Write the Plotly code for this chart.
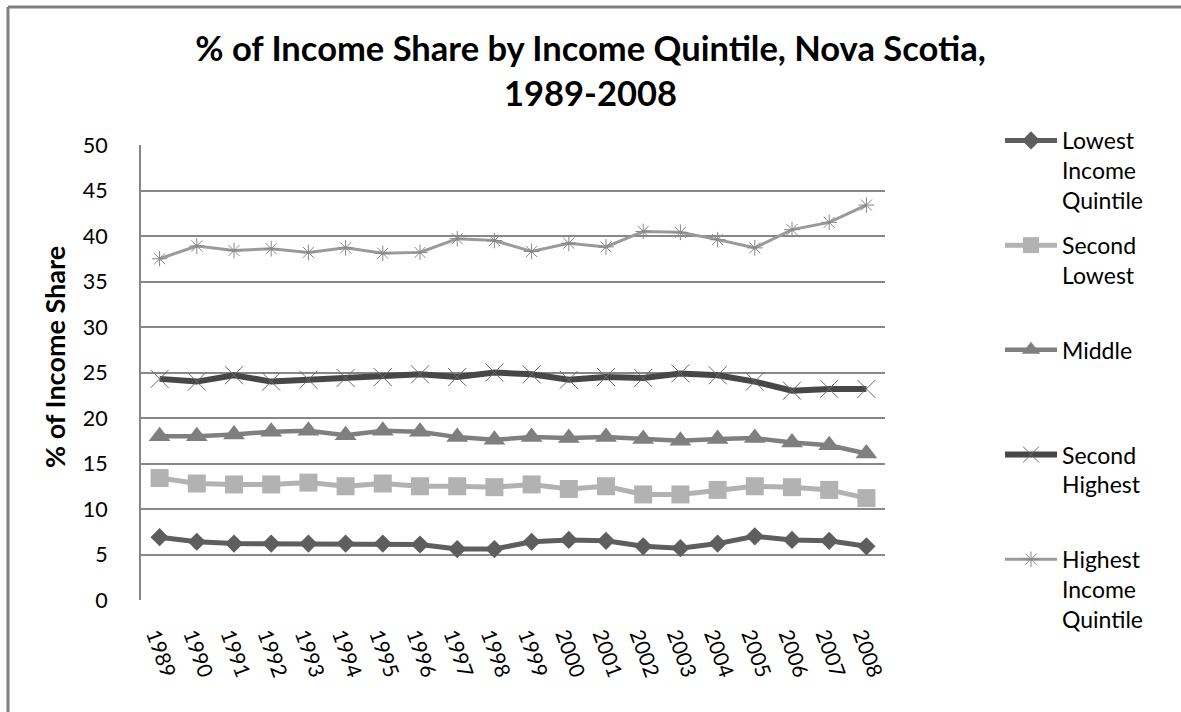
import plotly.graph_objects as go

years = [str(y) for y in range(1989, 2009)]

lowest = [6.9, 6.4, 6.2, 6.2, 6.2, 6.2, 6.2, 6.1, 5.6, 5.6, 6.4, 6.6, 6.5, 5.9, 5.7, 6.2, 7.0, 6.6, 6.5, 5.9]
second_lowest = [13.4, 12.8, 12.7, 12.7, 12.9, 12.5, 12.8, 12.5, 12.5, 12.4, 12.7, 12.2, 12.5, 11.6, 11.6, 12.1, 12.5, 12.4, 12.1, 11.2]
middle = [18.0, 18.0, 18.2, 18.5, 18.6, 18.1, 18.6, 18.5, 17.9, 17.6, 17.9, 17.8, 17.9, 17.7, 17.5, 17.7, 17.8, 17.3, 17.0, 16.1]
second_highest = [24.3, 24.0, 24.7, 24.0, 24.2, 24.4, 24.5, 24.8, 24.5, 25.0, 24.8, 24.2, 24.5, 24.4, 24.9, 24.7, 24.0, 23.0, 23.2, 23.2]
highest = [37.5, 38.9, 38.4, 38.6, 38.2, 38.7, 38.1, 38.2, 39.7, 39.5, 38.3, 39.2, 38.8, 40.5, 40.4, 39.6, 38.7, 40.7, 41.5, 43.4]

y_ticks = list(range(0, 55, 5))

FONT = "Lato"

series = [
    ("Lowest<br>Income<br>Quintile", lowest, "#5e5e5e", 5,
     dict(symbol="diamond", size=14, color="#5e5e5e")),
    ("Second<br>Lowest<br> ", second_lowest, "#b2b2b2", 5,
     dict(symbol="square", size=18, color="#b2b2b2")),
    ("Middle<br> <br> ", middle, "#7f7f7f", 4.5,
     dict(symbol="triangle-up", size=19, color="#7f7f7f")),
    ("Second<br>Highest<br> ", second_highest, "#474747", 6,
     dict(symbol="x-thin-open", size=18, color="#6a6a6a", line=dict(color="#6a6a6a", width=1))),
    ("Highest<br>Income<br>Quintile", highest, "#9a9a9a", 3,
     dict(symbol="asterisk-open", size=13, color="#888888", line=dict(color="#888888", width=1))),
]

fig = go.Figure()
for i, (name, vals, col, lw, mk) in enumerate(series):
    fig.add_trace(go.Scatter(
        x=years, y=vals, name=name, mode="lines+markers",
        line=dict(color=col, width=lw),
        marker=mk, legendgroup=f"g{i}",
    ))

fig.update_layout(
    width=1181, height=712,
    margin=dict(l=141, r=296, t=145, b=112),
    paper_bgcolor="white", plot_bgcolor="white",
    font=dict(family=FONT, color="black", size=21),
    title=dict(
        text="<b>% of Income Share by Income Quintile, Nova Scotia,<br>1989-2008</b>",
        x=0.5, xanchor="center", xref="container",
        y=1 - 61 / 712, yanchor="top", yref="container",
        font=dict(family=FONT, size=34.5, color="black"),
    ),
    legend=dict(
        xref="container", yref="container",
        x=1000 / 1181, y=1 - 119 / 712, xanchor="left", yanchor="top",
        font=dict(family=FONT, size=23, color="black"),
        tracegroupgap=12, itemwidth=52, valign="top",
        bgcolor="rgba(0,0,0,0)", maxheight=640,
    ),
    showlegend=True,
)

fig.update_xaxes(
    type="category", range=[-0.5, 19.5], tickangle=70, showgrid=False, zeroline=False,
    showline=False, ticks="", tickfont=dict(family=FONT, size=21),
    ticklabelstandoff=18, ticklabelshift=-4,
)
fig.update_yaxes(
    range=[0, 50], tickvals=y_ticks, showgrid=True,
    gridcolor="#878787", gridwidth=1.5, zeroline=False,
    showline=True, linecolor="#878787", linewidth=2,
    ticks="", tickfont=dict(family=FONT, size=21.5), ticklabelstandoff=27,
)

# y-axis title
fig.add_annotation(text="<b>% of Income Share</b>", textangle=-90,
                   xref="paper", yref="paper", x=(54 - 141) / 744, y=1 - (357 - 145) / 455,
                   xanchor="center", yanchor="middle", showarrow=False,
                   font=dict(family=FONT, size=27, color="black"))

# outer frame (top and left edges)
frame = dict(color="#808080", width=3)
fig.add_shape(type="line", xref="paper", yref="paper",
              x0=-133 / 744, x1=1500 / 744, y0=1 + 138 / 455, y1=1 + 138 / 455, line=frame)
fig.add_shape(type="line", xref="paper", yref="paper",
              x0=-133 / 744, x1=-133 / 744, y0=1 + 138 / 455, y1=-300 / 455, line=frame)

fig.write_html("out.html")
